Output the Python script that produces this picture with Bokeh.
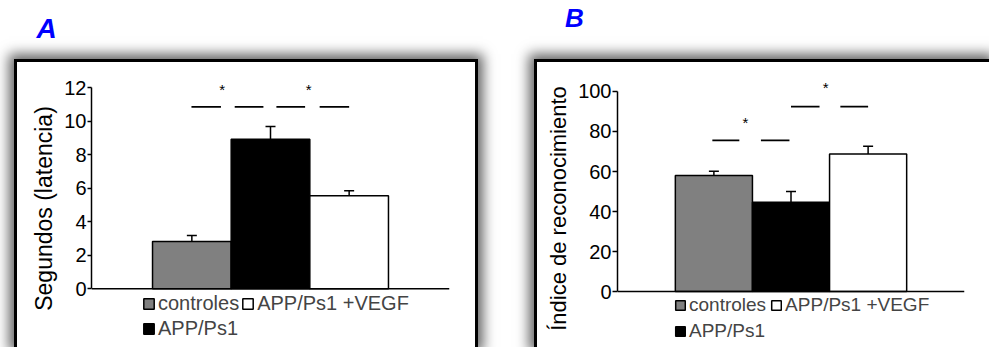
from bokeh.plotting import figure
from bokeh.models import (Range1d, Legend, LegendItem, FixedTicker, ColumnDataSource, Span)
from bokeh.layouts import row, column
from bokeh.core.properties import value
from bokeh.embed import file_html
from bokeh.resources import INLINE

FONT = "Liberation Sans"

groups = ["controles", "APP/Ps1", "APP/Ps1 +VEGF"]
bar_colors = ["#808080", "#000000", "#ffffff"]
bar_x = [1, 2, 3]

# Panel A
a_values = [2.83, 8.93, 5.55]
a_errors = [0.36, 0.75, 0.30]
a_ticks = [0, 2, 4, 6, 8, 10, 12]
a_sig_x0 = [0.995, 1.545, 2.075, 2.625]
a_sig_x1 = [1.37, 1.91, 2.44, 3.0]
a_sig_y = [10.86, 10.86, 10.86, 10.86]
a_star_x = [1.385, 2.485]
a_star_y = [11.9, 11.9]

# Panel B
b_values = [58.0, 44.6, 68.7]
b_errors = [2.1, 5.4, 3.9]
b_ticks = [0, 20, 40, 60, 80, 100]
b_sig_x0 = [0.98, 1.61, 2.0, 2.64]
b_sig_x1 = [1.33, 1.98, 2.37, 3.0]
b_sig_y = [75.6, 75.6, 92.4, 92.4]
b_star_x = [1.41, 2.45]
b_star_y = [84.3, 102.0]

SHADOW = "0px 0px 12px 5px rgba(0,0,0,0.62)"


def letter_fig(letter, width, height, font, top, margin):
    f = figure(width=width, height=height, output_backend="svg", toolbar_location=None,
               x_axis_location=None, y_axis_location=None, min_border=0,
               min_border_top=top, outline_line_color=None, border_fill_alpha=0,
               background_fill_alpha=0, x_range=Range1d(0, 1), y_range=Range1d(0, 1),
               margin=margin)
    f.grid.visible = False
    f.title.text = letter
    f.title.text_font = FONT
    f.title.text_font_size = font
    f.title.text_font_style = "bold italic"
    f.title.text_color = "#0000ff"
    f.title.align = "center"
    f.title.offset = 0
    f.title.standoff = 0
    return f


def make_panel(values, errors, ticks, yr, ylabel, sig_x0, sig_x1, sig_y, star_x, star_y,
               width, height, xr, borders, margin, styles, label_font, label_standoff,
               tick_out, leg_font, leg_loc, leg_spacing, glyph):
    bl, br, bt, bb = borders
    p = figure(width=width, height=height, x_range=Range1d(*xr), y_range=Range1d(*yr),
               output_backend="svg", toolbar_location=None, x_axis_location=None,
               min_border_left=bl, min_border_right=br, min_border_top=bt,
               min_border_bottom=bb, outline_line_color=None,
               background_fill_color="white", border_fill_color="white",
               margin=margin, styles=styles)
    p.title.text = ""
    p.title.text_font_size = "1px"
    p.title.standoff = 0

    upper = [v + e for v, e in zip(values, errors)]
    src = ColumnDataSource(dict(x=bar_x, top=values, color=bar_colors, upper=upper))
    r = p.vbar(x="x", top="top", bottom=0, width=1, fill_color="color", line_color="black",
               line_width=1.5, source=src)
    p.segment(x0="x", x1="x", y0="top", y1="upper", source=src, line_color="black",
              line_width=1.5)
    p.dash(x="x", y="upper", size=10, angle=0, source=src, line_color="black",
           line_width=1.5)
    p.segment(x0=sig_x0, x1=sig_x1, y0=sig_y, y1=sig_y, line_color="black", line_width=1.8)
    p.text(x=star_x, y=star_y, text=["*"] * len(star_x), text_align="center",
           text_baseline="middle", text_font=value(FONT), text_font_size=value("15px"),
           text_color="black")
    p.add_layout(Span(location=0, dimension="width", line_color="black", line_width=1.5))

    p.xgrid.visible = False
    p.ygrid.visible = False

    ya = p.yaxis[0]
    ya.ticker = FixedTicker(ticks=ticks)
    ya.bounds = (ticks[0], ticks[-1])
    ya.axis_line_color = "black"
    ya.axis_line_width = 1.5
    ya.major_tick_out = tick_out
    ya.major_tick_in = 0
    ya.major_tick_line_width = 1.5
    ya.minor_tick_out = 0
    ya.minor_tick_in = 0
    ya.major_label_standoff = 1
    ya.major_label_text_font = FONT
    ya.major_label_text_font_size = "20px"
    ya.major_label_text_color = "black"
    ya.axis_label = ylabel
    ya.axis_label_text_font = FONT
    ya.axis_label_text_font_size = label_font
    ya.axis_label_text_font_style = "normal"
    ya.axis_label_text_color = "black"
    ya.axis_label_standoff = label_standoff

    items = [LegendItem(label=g, renderers=[r], index=i) for i, g in enumerate(groups)]
    lg = Legend(items=items, location=leg_loc, orientation="vertical", nrows=2,
                label_text_font=FONT, label_text_font_size=leg_font,
                glyph_width=glyph, glyph_height=glyph, label_standoff=3,
                spacing=leg_spacing, padding=0, margin=0, border_line_color=None,
                background_fill_alpha=0)
    p.add_layout(lg, "center")
    return p


styles_a = {"border-top": "3px solid black", "border-left": "3px solid black",
            "border-right": "3px solid black", "box-shadow": SHADOW}
styles_b = {"border-top": "3px solid black", "border-left": "3px solid black",
            "box-shadow": SHADOW}

la = letter_fig("A", 94, 59, "28px", 43, (0, 0, 0, -22))
pa = make_panel(a_values, a_errors, a_ticks, (-3.678, 13.267), "Segundos (latencia)",
                a_sig_x0, a_sig_x1, a_sig_y, a_star_x, a_star_y,
                width=464, height=288, xr=(-0.276, 4.276), borders=(74, 32, 4, 0),
                margin=(0, 0, 0, 14), styles=styles_a, label_font="23px",
                label_standoff=4, tick_out=4, leg_font="20px", leg_loc=(51, 10),
                leg_spacing=2, glyph=13)

lb = letter_fig("B", 120, 59, "26px", 32, (0, 0, 0, 10))
pb = make_panel(b_values, b_errors, b_ticks, (-29.44, 112.47), "Índice de reconocimiento",
                b_sig_x0, b_sig_x1, b_sig_y, b_star_x, b_star_y,
                width=455, height=288, xr=(-0.25, 4.25), borders=(80, 28, 4, 0),
                margin=(0, 0, 0, 56), styles=styles_b, label_font="22px",
                label_standoff=4, tick_out=5, leg_font="19px", leg_loc=(57, 8),
                leg_spacing=4, glyph=12)

layout = row(column(la, pa), column(lb, pb))
open("out.html", "w").write(file_html(layout, INLINE))
